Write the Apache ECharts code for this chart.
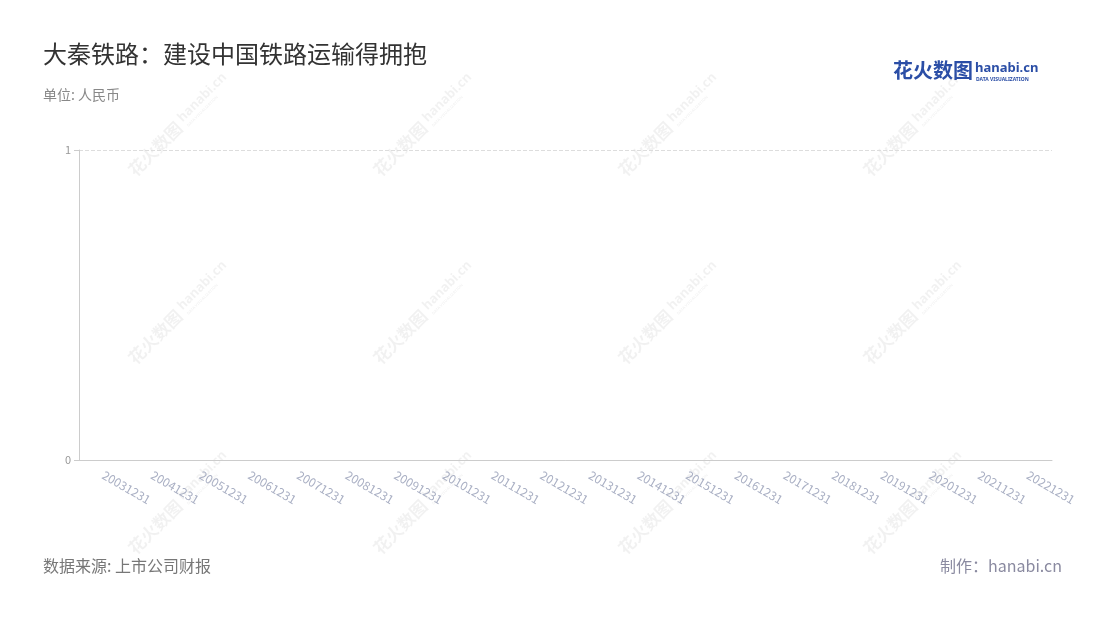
<!DOCTYPE html>
<html>
<head>
<meta charset="utf-8">
<script src="https://cdn.jsdelivr.net/npm/echarts@6/dist/echarts.min.js"></script>
<style>html,body{margin:0;padding:0;background:#fff;}#c{width:1100px;height:620px;}</style>
</head>
<body>
<div id="c"></div>
<script>
const categories = ['20031231','20041231','20051231','20061231','20071231','20081231','20091231','20101231','20111231','20121231','20131231','20141231','20151231','20161231','20171231','20181231','20191231','20201231','20211231','20221231'];
const values = [null,null,null,null,null,null,null,null,null,null,null,null,null,null,null,null,null,null,null,null];
const yTicks = [0, 1];

const chart = echarts.init(document.getElementById('c'));
const font = '"Noto Sans CJK SC","Noto Sans",sans-serif';
const wm = [];
const cols = [182, 427, 672, 917];
const rows = [122, 310, 500];
rows.forEach(y => cols.forEach(x => {
  wm.push({
    type: 'group', x: x, y: y, rotation: Math.PI / 4, z: 100, silent: true,
    children: [
      { type: 'text', x: -72, y: 0, style: { text: '花火数图', fill: 'rgba(0,0,0,0.055)', font: 'bold 17px ' + font, align: 'left', verticalAlign: 'middle' } },
      { type: 'text', x: 0, y: -3, style: { text: 'hanabi.cn', fill: 'rgba(0,0,0,0.055)', font: 'bold 13px "Noto Sans",sans-serif', align: 'left', verticalAlign: 'middle' } },
      { type: 'text', x: 1, y: 7, style: { text: 'DATA VISUALIZATION', fill: 'rgba(0,0,0,0.05)', font: 'bold 4px "Noto Sans",sans-serif', align: 'left', verticalAlign: 'middle' } }
    ]
  });
}));
chart.setOption({
  backgroundColor: '#fff',
  animation: false,
  textStyle: { fontFamily: font },
  title: [
    { text: '大秦铁路：建设中国铁路运输得拥抱', left: 38, top: 37, textStyle: { fontSize: 24, fontWeight: 'normal', color: '#333', fontFamily: font } },
    { text: '单位: 人民币', left: 38, top: 83, textStyle: { fontSize: 14, fontWeight: 'normal', color: '#888', fontFamily: font } },
    { text: '数据来源: 上市公司财报', left: 38, top: 553, textStyle: { fontSize: 16, fontWeight: 'normal', color: '#777', fontFamily: font } },
    { text: '制作：hanabi.cn', right: 33, top: 553, textStyle: { fontSize: 16, fontWeight: 'normal', color: '#8a8aa0', fontFamily: font } }
  ],
  graphic: wm.concat([
    { type: 'text', left: 893, top: 60, style: { text: '花火数图', fill: '#2b4ea6', font: 'bold 20px ' + font } },
    { type: 'text', left: 975, top: 62, style: { text: 'hanabi.cn', fill: '#2b4ea6', font: 'bold 13px "Noto Sans",sans-serif' } },
    { type: 'text', left: 976, top: 77, style: { text: 'DATA VISUALIZATION', fill: '#2b4ea6', font: 'bold 5px "Noto Sans",sans-serif' } }
  ]),
  grid: { left: 79, right: 48, top: 150, bottom: 160 },
  xAxis: {
    type: 'category',
    data: categories,
    axisLine: { lineStyle: { color: '#ccc' } },
    axisTick: { alignWithLabel: true, lineStyle: { color: '#ccc' } },
    axisLabel: { rotate: -30, color: '#aab0c4', fontSize: 12, margin: 14 }
  },
  yAxis: {
    type: 'value',
    min: yTicks[0], max: yTicks[yTicks.length - 1], interval: 1,
    axisLine: { show: true, lineStyle: { color: '#ccc' } },
    axisTick: { show: true, lineStyle: { color: '#ccc' } },
    axisLabel: { color: '#999', fontSize: 11 },
    splitLine: { lineStyle: { type: 'dashed', color: '#ddd' } }
  },
  series: [{ type: 'bar', data: values }]
});
</script>
</body>
</html>
